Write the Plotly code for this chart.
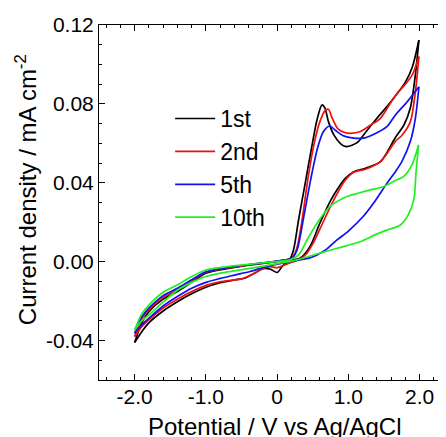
import plotly.graph_objects as go

# ---- data ----
series_names = ["1st", "2nd", "5th", "10th"]
series_colors = ["#000000", "#f01010", "#1010f0", "#20f020"]

# 1st cycle
x_1st_fwd = [-2.0, -1.9, -1.8, -1.6, -1.4, -1.2, -1.0, -0.7, -0.4, -0.1, 0.1, 0.18, 0.23, 0.3, 0.4, 0.5, 0.56, 0.63, 0.67, 0.72, 0.8, 0.9, 0.97, 1.05, 1.14, 1.25, 1.4, 1.55, 1.68, 1.8, 1.9, 1.99]
j_1st_fwd = [-0.041, -0.031, -0.0254, -0.019, -0.0152, -0.0105, -0.0058, -0.0035, -0.0018, -0.0004, 0.0008, 0.0015, 0.006, 0.021, 0.041, 0.061, 0.072, 0.0795, 0.078, 0.071, 0.064, 0.0595, 0.0583, 0.059, 0.0609, 0.066, 0.0727, 0.079, 0.085, 0.091, 0.099, 0.1124]
x_1st_rev = [1.99, 1.94, 1.87, 1.78, 1.66, 1.45, 1.25, 1.07, 0.95, 0.85, 0.75, 0.6, 0.46, 0.32, 0.18, 0.08, 0.0, -0.1, -0.2, -0.3, -0.45, -0.6, -0.8, -1.0, -1.2, -1.4, -1.6, -1.8, -1.9, -2.0]
j_1st_rev = [0.1124, 0.0947, 0.078, 0.0693, 0.063, 0.0507, 0.0475, 0.0455, 0.042, 0.037, 0.031, 0.0195, 0.0076, 0.0017, 0.0006, -0.002, -0.0055, -0.0037, -0.0035, -0.0055, -0.0083, -0.0093, -0.0107, -0.013, -0.0163, -0.0203, -0.025, -0.031, -0.0355, -0.041]

# 2nd cycle
x_2nd_fwd = [-2.0, -1.9, -1.8, -1.6, -1.4, -1.2, -1.0, -0.7, -0.4, -0.1, 0.1, 0.2, 0.27, 0.35, 0.43, 0.52, 0.6, 0.67, 0.72, 0.77, 0.85, 0.95, 1.03, 1.17, 1.3, 1.45, 1.6, 1.7, 1.8, 1.9, 1.99]
j_2nd_fwd = [-0.038, -0.029, -0.0245, -0.018, -0.0143, -0.0098, -0.0055, -0.0032, -0.0017, -0.0003, 0.0008, 0.0015, 0.006, 0.021, 0.0415, 0.060, 0.071, 0.0765, 0.0773, 0.073, 0.0675, 0.0655, 0.0651, 0.066, 0.069, 0.0727, 0.081, 0.086, 0.090, 0.095, 0.104]
x_2nd_rev = [1.99, 1.94, 1.87, 1.75, 1.66, 1.45, 1.25, 1.07, 0.95, 0.85, 0.75, 0.6, 0.5, 0.4, 0.3, 0.15, 0.0, -0.1, -0.2, -0.35, -0.5, -0.8, -1.0, -1.2, -1.4, -1.6, -1.8, -1.9, -2.0]
j_2nd_rev = [0.104, 0.086, 0.071, 0.064, 0.061, 0.0507, 0.047, 0.0452, 0.041, 0.035, 0.028, 0.0165, 0.009, 0.0035, 0.001, -0.001, -0.003, -0.0025, -0.0035, -0.0065, -0.0087, -0.0102, -0.012, -0.0152, -0.019, -0.0235, -0.0295, -0.033, -0.038]

# 5th cycle
x_5th_fwd = [-2.0, -1.9, -1.8, -1.6, -1.4, -1.2, -1.0, -0.7, -0.4, -0.1, 0.1, 0.2, 0.28, 0.37, 0.47, 0.57, 0.65, 0.74, 0.82, 0.92, 1.05, 1.21, 1.35, 1.54, 1.66, 1.8, 1.9, 1.99]
j_5th_fwd = [-0.0363, -0.028, -0.0236, -0.0172, -0.0135, -0.0092, -0.0052, -0.003, -0.0015, -0.0002, 0.0008, 0.0015, 0.006, 0.022, 0.0415, 0.058, 0.066, 0.0688, 0.0665, 0.064, 0.0628, 0.0626, 0.0645, 0.0685, 0.0744, 0.080, 0.0845, 0.0887]
x_5th_rev = [1.99, 1.94, 1.87, 1.75, 1.66, 1.54, 1.38, 1.21, 1.0, 0.84, 0.7, 0.56, 0.45, 0.32, 0.1, -0.2, -0.38, -0.6, -0.8, -1.0, -1.2, -1.4, -1.6, -1.8, -1.9, -2.0]
j_5th_rev = [0.0887, 0.0727, 0.061, 0.0507, 0.0456, 0.0397, 0.031, 0.023, 0.0155, 0.011, 0.0065, 0.0034, 0.0018, 0.0009, -0.0005, -0.003, -0.005, -0.0068, -0.0085, -0.0105, -0.0135, -0.0177, -0.0225, -0.0287, -0.032, -0.0363]

# 10th cycle
x_10th_fwd = [-2.0, -1.9, -1.8, -1.6, -1.4, -1.2, -1.0, -0.7, -0.4, -0.1, 0.18, 0.3, 0.42, 0.56, 0.74, 0.98, 1.15, 1.31, 1.49, 1.68, 1.77, 1.89, 1.985]
j_10th_fwd = [-0.0346, -0.0265, -0.022, -0.0155, -0.0118, -0.0075, -0.0042, -0.0025, -0.0014, -0.0002, 0.0009, 0.0034, 0.011, 0.0195, 0.0279, 0.033, 0.0348, 0.0364, 0.038, 0.0415, 0.043, 0.049, 0.0592]
x_10th_rev = [1.985, 1.95, 1.92, 1.84, 1.73, 1.54, 1.35, 1.165, 0.84, 0.51, 0.28, 0.0, -0.38, -0.7, -1.0, -1.2, -1.4, -1.6, -1.8, -1.9, -2.0]
j_10th_rev = [0.0592, 0.0456, 0.032, 0.0237, 0.0186, 0.016, 0.0132, 0.0101, 0.0068, 0.0034, 0.0009, -0.001, -0.0034, -0.0052, -0.0075, -0.0105, -0.0145, -0.0205, -0.027, -0.030, -0.0346]

x_tick_vals = [-2.0, -1.0, 0.0, 1.0, 2.0]
x_tick_text = ["-2.0", "-1.0", "0", "1.0", "2.0"]
y_tick_vals = [-0.04, 0.0, 0.04, 0.08, 0.12]
y_tick_text = ["-0.04", "0.00", "0.04", "0.08", "0.12"]

sweeps = [
    (x_1st_fwd, j_1st_fwd, x_1st_rev, j_1st_rev),
    (x_2nd_fwd, j_2nd_fwd, x_2nd_rev, j_2nd_rev),
    (x_5th_fwd, j_5th_fwd, x_5th_rev, j_5th_rev),
    (x_10th_fwd, j_10th_fwd, x_10th_rev, j_10th_rev),
]

FONT = "Liberation Sans, Arial, Helvetica, sans-serif"

fig = go.Figure()
for name, color, (xf, jf, xr, jr) in zip(series_names, series_colors, sweeps):
    fig.add_trace(go.Scatter(x=xf, y=jf, mode="lines", name=name, legendgroup=name,
                             showlegend=True,
                             line=dict(color=color, width=1.7, shape="spline", smoothing=0.8)))
    fig.add_trace(go.Scatter(x=xr, y=jr, mode="lines", name=name, legendgroup=name,
                             showlegend=False,
                             line=dict(color=color, width=1.7, shape="spline", smoothing=0.8)))

# the page body adds an 8 px offset; the figure is sized to fill the rest of the window
fig.update_layout(
    width=438, height=429,
    margin=dict(l=91, r=0, t=17, b=57, autoexpand=False),
    paper_bgcolor="white", plot_bgcolor="white",
    font=dict(family=FONT, color="black", size=21),
    showlegend=True,
    legend=dict(x=0.205, y=0.797, xanchor="left", yanchor="top",
                font=dict(size=23, family=FONT), bgcolor="rgba(0,0,0,0)",
                tracegroupgap=0, itemwidth=40),
    xaxis=dict(range=[-2.5, 2.37], showline=True, linecolor="black", linewidth=1,
               mirror="ticks", ticks="inside", ticklen=6, tickwidth=1, tickcolor="black",
               tickmode="array", tickvals=x_tick_vals, ticktext=x_tick_text,
               minor=dict(ticks="inside", ticklen=3, tickwidth=1, tickcolor="black",
                          tickmode="linear", tick0=0, dtick=0.2),
               showgrid=False, zeroline=False, automargin=False,
               ticklabelstandoff=-2,
               tickfont=dict(size=21, family=FONT)),
    yaxis=dict(range=[-0.06, 0.12], showline=True, linecolor="black", linewidth=1,
               mirror=False, ticks="inside", ticklen=6, tickwidth=1, tickcolor="black",
               tickmode="array", tickvals=y_tick_vals, ticktext=y_tick_text,
               minor=dict(ticks="inside", ticklen=3, tickwidth=1, tickcolor="black",
                          tickmode="linear", tick0=0, dtick=0.01),
               showgrid=False, zeroline=False, automargin=False,
               tickfont=dict(size=21, family=FONT)),
    annotations=[
        dict(text="Potential / V vs Ag/AgCl", xref="paper", yref="paper",
             x=0.505, y=-0.088, xanchor="center", yanchor="top", showarrow=False,
             font=dict(size=24, family=FONT)),
        dict(text="Current density / mA cm<sup>-2</sup>", xref="paper", yref="paper",
             x=-0.21, y=0.535, xanchor="center", yanchor="middle", textangle=-90,
             showarrow=False, font=dict(size=24, family=FONT)),
    ],
)

fig.write_html("out.html")
